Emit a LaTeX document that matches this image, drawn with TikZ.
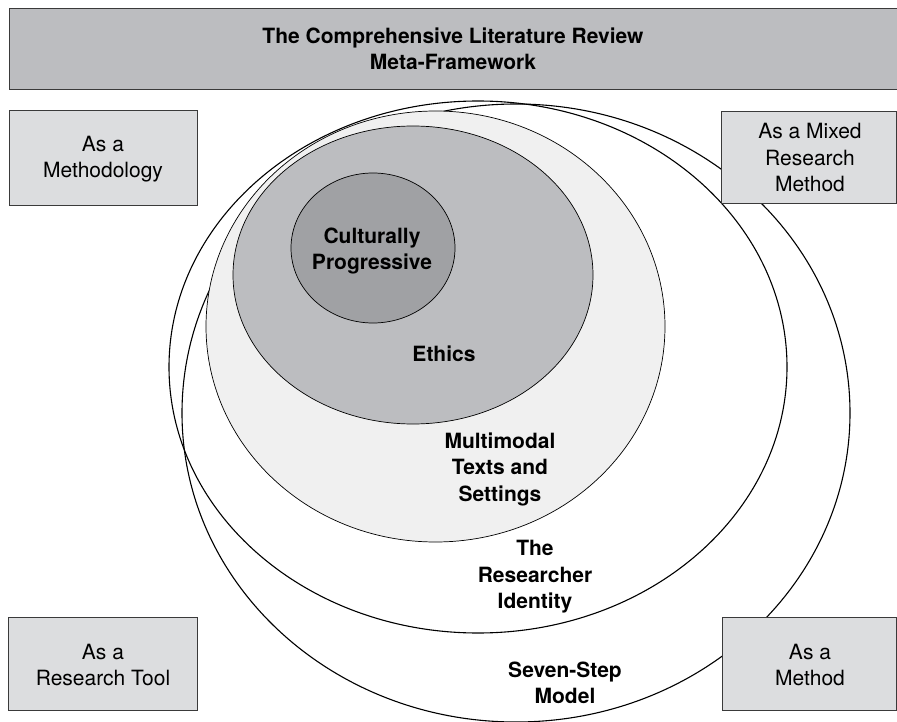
\documentclass[tikz,border=0pt]{standalone}
\usepackage{fontspec}
\setmainfont{TeX Gyre Heros}
\usetikzlibrary{positioning}
\definecolor{titlegris}{HTML}{BCBDC0}
\definecolor{boxgris}{HTML}{DCDDDF}
\definecolor{culturegris}{HTML}{A0A1A4}
\definecolor{ethicsgris}{HTML}{BCBDC0}
\definecolor{modalgris}{HTML}{F0F0F0}
\definecolor{edgegris}{HTML}{3A3A3A}

\begin{document}
\begin{tikzpicture}[x=1pt, y=-1pt,
  every node/.style={font=\fontsize{21}{26.5}\selectfont, align=center, inner sep=0pt},
  ringlabel/.style={font=\fontsize{21}{26.5}\selectfont\bfseries},
  sidebox/.style={fill=boxgris, draw=edgegris, line width=0.8pt},
  ring/.style={draw=black, line width=1.1pt},
  disc/.style={draw=black, line width=0.7pt}]
  \useasboundingbox (0,0) rectangle (897,722);

  % Outer rings
  \draw[ring] (516,413) ellipse [x radius=334, y radius=309];
  \draw[ring] (478,367) ellipse [x radius=309, y radius=266];

  % Inner discs
  \filldraw[disc, fill=modalgris] (435.5,326.5) ellipse [x radius=229.5, y radius=215.5];
  \filldraw[disc, fill=ethicsgris] (413,275) ellipse [x radius=180, y radius=149];
  \filldraw[disc, fill=culturegris] (373,248) ellipse [x radius=82, y radius=75];

  % Title bar
  \filldraw[fill=titlegris, draw=edgegris, line width=0.8pt] (9,8) rectangle (900,89);
  \node[ringlabel] (title) at (453,49)
    {The Comprehensive Literature Review\\Meta-Framework};

  % Corner boxes
  \filldraw[sidebox] (9,110) rectangle (197,205);
  \filldraw[sidebox] (721,111) rectangle (896,203);
  \filldraw[sidebox] (8,617) rectangle (197,710);
  \filldraw[sidebox] (722,617) rectangle (896,710);
  \node (methodology) at (103,159) {As a\\Methodology};
  \node (mixed) at (810,158) {As a Mixed\\Research\\Method};
  \node (tool) at (103,665) {As a\\Research Tool};
  \node (method) at (810,665) {As a\\Method};

  % Ring labels
  \node[ringlabel] (culture) at (372,251) {Culturally\\Progressive};
  \node[ringlabel] (ethics) at (444,354) {Ethics};
  \node[ringlabel] (modal) at (500,469) {Multimodal\\Texts and\\Settings};
  \node[ringlabel] (identity) at (535,577) {The\\Researcher\\Identity};
  \node[ringlabel] (model) at (565,683) {Seven-Step\\Model};

\end{tikzpicture}
\end{document}
